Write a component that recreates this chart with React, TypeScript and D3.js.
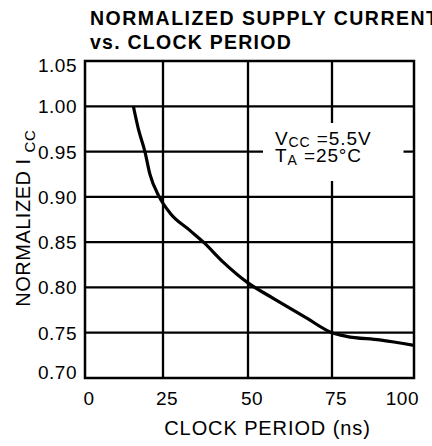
import React from "react";
import * as d3 from "d3";

const xTicks = [0, 25, 50, 75, 100];
const yTicks = [0.7, 0.75, 0.8, 0.85, 0.9, 0.95, 1.0, 1.05];
const xTickLabels = ["0", "25", "50", "75", "100"];
const yTickLabels = ["0.70", "0.75", "0.80", "0.85", "0.90", "0.95", "1.00", "1.05"];
const clockPeriod = [15.5, 17.1, 19.2, 20.8, 23.8, 27.1, 32.9, 36.9, 42.7, 50, 57.5, 67.5, 75, 79.4, 89.5, 100];
const normIcc = [1.0, 0.975, 0.95, 0.925, 0.9, 0.882, 0.863, 0.85, 0.828, 0.805, 0.788, 0.766, 0.75, 0.746, 0.742, 0.736];

const FONT = "Liberation Sans, Arial, Helvetica, sans-serif";

export default function App() {
  const x = d3.scaleLinear().domain(xTicks).range([85, 163, 248, 332, 414]);
  const y = d3.scaleLinear().domain([0.7, 1.05]).range([378, 61]);
  const left = x(0), right = x(100), top = y(1.05), bottom = y(0.7);

  const pts: [number, number][] = clockPeriod.map((c, i) => [c, normIcc[i]]);
  const line = d3
    .line<[number, number]>()
    .x((d) => x(d[0]))
    .y((d) => y(d[1]))
    .curve(d3.curveMonotoneX);

  const ts = { fontFamily: FONT };

  return (
    <svg
      width={432}
      height={446}
      style={{ position: "absolute", left: 0, top: 0, background: "#fff", fontFamily: FONT }}
    >
      <rect x={0} y={0} width={432} height={446} fill="#fff" />
      <text x={90} y={25} fontSize={19.5} fontWeight="bold" letterSpacing={1.5} style={ts}>
        NORMALIZED SUPPLY CURRENT
      </text>
      <text x={90} y={49} fontSize={19.5} fontWeight="bold" letterSpacing={1.25} style={ts}>
        vs. CLOCK PERIOD
      </text>

      {/* grid */}
      {xTicks.slice(1, -1).map((t) => (
        <line key={"vx" + t} x1={x(t)} x2={x(t)} y1={top} y2={bottom} stroke="#000" strokeWidth={2.3} />
      ))}
      {yTicks.slice(1, -1).map((t) => (
        <line key={"hy" + t} x1={left} x2={right} y1={y(t)} y2={y(t)} stroke="#000" strokeWidth={2.3} />
      ))}
      {/* legend knockout */}
      <rect x={263} y={123} width={140.5} height={58} fill="#fff" />
      <rect x={left} y={top} width={right - left} height={bottom - top} fill="none" stroke="#000" strokeWidth={2.5} />

      <path d={line(pts) || ""} fill="none" stroke="#000" strokeWidth={3.2} strokeLinejoin="round" />

      {/* legend */}
      <text x={275} y={144.5} fontSize={19} letterSpacing={0.9} style={ts}>
        V<tspan fontSize={14} dy={2.5}>CC</tspan><tspan dy={-2.5}> =5.5V</tspan>
      </text>
      <text x={275} y={161.5} fontSize={19} letterSpacing={0.9} style={ts}>
        T<tspan fontSize={14} dy={3.5}>A</tspan><tspan dy={-3.5}> =25°C</tspan>
      </text>

      {/* y tick labels */}
      {yTicks.map((t, i) => {
        let off = 7;
        if (i === yTicks.length - 1) off = 10.7;
        if (i === 0) off = 1;
        return (
          <text key={"yl" + t} x={77} y={y(t) + off} fontSize={19} letterSpacing={0.5} textAnchor="end" style={ts}>
            {yTickLabels[i]}
          </text>
        );
      })}

      {/* x tick labels */}
      {xTicks.map((t, i) => {
        const last = i === xTicks.length - 1;
        return (
          <text
            key={"xl" + t}
            x={last ? x(t) + 5 : x(t) + 4}
            y={405}
            fontSize={19}
            letterSpacing={0.5}
            textAnchor={last ? "end" : "middle"}
            style={ts}
          >
            {xTickLabels[i]}
          </text>
        );
      })}

      <text x={267.5} y={435} fontSize={20} letterSpacing={0.9} textAnchor="middle" style={ts}>
        CLOCK PERIOD (ns)
      </text>

      <text transform="translate(30,306.7) rotate(-90)" fontSize={20} letterSpacing={0.5} style={ts}>
        NORMALIZED I<tspan fontSize={15} dy={5} dx={6}>CC</tspan>
      </text>
    </svg>
  );
}
